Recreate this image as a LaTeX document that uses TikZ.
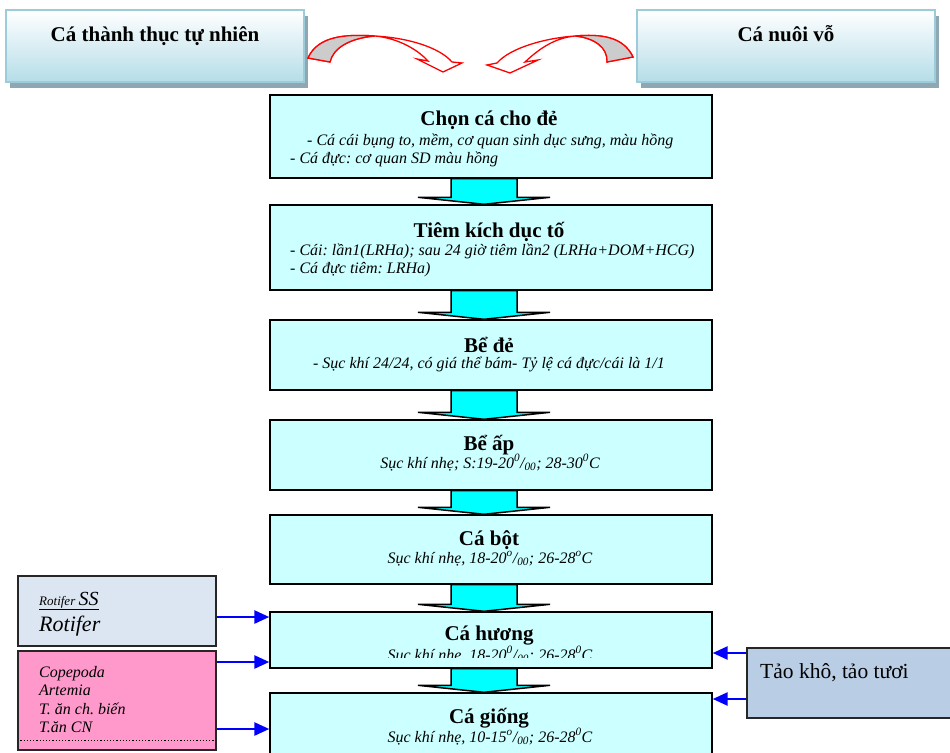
\documentclass[tikz,border=0pt]{standalone}
\usepackage{fontspec}
\setmainfont{Liberation Serif}
\usetikzlibrary{calc,arrows.meta,shadows}
\frenchspacing

\definecolor{boxcyan}{HTML}{CCFFFF}
\definecolor{arrcyan}{HTML}{00FFFF}
\definecolor{topblue}{HTML}{B5DDE8}
\definecolor{topedge}{HTML}{9CCBDA}
\definecolor{topshade}{HTML}{8EA7B2}
\definecolor{rotbox}{HTML}{DCE6F2}
\definecolor{pinkbox}{HTML}{FF99CC}
\definecolor{algbox}{HTML}{B9CDE5}
\definecolor{bentgray}{HTML}{CCCCCC}

\tikzset{
  stage/.style={draw=black, line width=1.4pt, fill=boxcyan, minimum width=442pt, inner sep=0pt},
  source/.style={draw=topedge, line width=1.6pt, top color=white, bottom color=topblue,
    minimum width=298pt, minimum height=72pt, inner sep=0pt,
    drop shadow={shadow xshift=4pt, shadow yshift=-6pt, fill=topshade, opacity=1}},
  feedbox/.style={draw=black!85, line width=1.4pt, inner sep=0pt},
  title/.style={font=\bfseries\fontsize{21}{23}\selectfont, anchor=base, inner sep=0pt},
  note/.style={font=\itshape\fontsize{16}{18}\selectfont, anchor=base west, inner sep=0pt},
  cnote/.style={font=\itshape\fontsize{16}{18}\selectfont, anchor=base, inner sep=0pt},
  blockarr/.style={draw=black, line width=1.5pt, fill=arrcyan, line join=miter},
  bent/.style={draw=red, line width=1.3pt, fill=white},
  feed/.style={draw=blue, line width=2.6pt, -{Triangle[length=15pt,width=13pt]}}
}

\begin{document}
\begin{tikzpicture}[x=1pt, y=-1pt]
\useasboundingbox (0,0) rectangle (950,752);

% two sources of brood fish
\node [source] (wild) at (155,46) {};
\node [source] (kept) at (786,46) {};
\node [title] at ($(wild.north)+(0,32)$) {Cá thành thục tự nhiên};
\node [title] at ($(kept.north)+(0,32)$) {Cá nuôi vỗ};

% bent arrows
\draw [bent] (308,58) .. controls (318,36) and (345,34) .. (375,36)
  .. controls (410,38) and (440,48) .. (452,62) -- (462,63) -- (443,72) -- (417,59) -- (428,61)
  .. controls (415,47) and (395,38) .. (375,36) .. controls (350,38) and (333,48) .. (330,62) -- cycle;
\draw [bent, fill=bentgray] (308,58) .. controls (318,36) and (345,34) .. (375,36)
  .. controls (350,38) and (333,48) .. (330,62) -- cycle;
\draw [bent] (633,57) .. controls (623,36) and (600,34) .. (575,36)
  .. controls (545,38) and (510,48) .. (497,63) -- (487,65) -- (510,73) -- (538,60) -- (525,62)
  .. controls (540,48) and (555,38) .. (575,36) .. controls (595,38) and (608,48) .. (607,62) -- cycle;
\draw [bent, fill=bentgray] (633,57) .. controls (623,36) and (600,34) .. (575,36)
  .. controls (595,38) and (608,48) .. (607,62) -- cycle;

% main stages
\node [stage, minimum height=83pt] (chon) at (491,136.5) {};
\node [stage, minimum height=85pt] (tiem) at (491,247.5) {};
\node [stage, minimum height=70pt] (bede) at (491,355) {};
\node [stage, minimum height=70pt] (beap) at (491,455) {};
\node [stage, minimum height=69pt] (bot) at (491,549.5) {};
\node [stage, minimum height=56pt] (huong) at (491,640) {};
\node [stage, minimum height=78pt] (giong) at (491,732) {};

\node [title] at (489,125) {Chọn cá cho đẻ};
\node [note] at (307,145) {- Cá cái bụng to, mềm, cơ quan sinh dục sưng, màu hồng};
\node [note] at (290,163) {- Cá đực: cơ quan SD màu hồng};

\node [title] at (489,237) {Tiêm kích dục tố};
\node [note] at (290,255) {- Cái: lần1(LRHa); sau 24 giờ tiêm lần2 (LRHa+DOM+HCG)};
\node [note] at (290,273) {- Cá đực tiêm: LRHa)};

\node [title] at (489,352) {Bể đẻ};
\node [cnote] at (489,368) {- Sục khí 24/24, có giá thể bám- Tỷ lệ cá đực/cái là 1/1};

\node [title] at (489,450) {Bể ấp};
\node [cnote] at (490,468) {Sục khí nhẹ; S:19-20\textsuperscript{0}/\textsubscript{00}; 28-30\textsuperscript{0}C};

\node [title] at (489,545) {Cá bột};
\node [cnote] at (490,563) {Sục khí nhẹ, 18-20\textsuperscript{o}/\textsubscript{00}; 26-28\textsuperscript{o}C};

\node [title] at (489,640) {Cá hương};
\begin{scope}
  \clip (270,612) rectangle (712,657);
  \node [cnote] at (490,660) {Sục khí nhẹ, 18-20\textsuperscript{0}/\textsubscript{00}; 26-28\textsuperscript{0}C};
\end{scope}

\node [title] at (489,723) {Cá giống};
\node [cnote] at (490,742) {Sục khí nhẹ, 10-15\textsuperscript{o}/\textsubscript{00}; 26-28\textsuperscript{0}C};

% block arrows between stages
\foreach \a/\b in {chon/tiem, tiem/bede, bede/beap, beap/bot, bot/huong, huong/giong}
  \draw [blockarr] ($(\a.south)+(-40,0)$) -- ($(\b.north)+(-40,-7)$) -- ($(\b.north)+(-73,-7)$)
    -- ($(\b.north)+(-7,0)$) -- ($(\b.north)+(59,-7)$) -- ($(\b.north)+(26,-7)$)
    -- ($(\a.south)+(26,0)$) -- cycle;

% feed boxes
\node [feedbox, fill=rotbox, minimum width=198pt, minimum height=70pt] (rot) at (117,611) {};
\node [feedbox, fill=pinkbox, minimum width=198pt, minimum height=99pt] (pink) at (117,700.5) {};
\node [feedbox, fill=algbox, minimum width=210pt, minimum height=70pt] (tao) at (852,683) {};

\node [anchor=base west, inner sep=0pt, font=\itshape] at (39,605)
  {\underline{\fontsize{13}{15}\selectfont Rotifer \fontsize{20}{22}\selectfont SS}};
\node [anchor=base west, inner sep=0pt, font=\itshape\fontsize{22}{24}\selectfont] at (39,631) {Rotifer};

\node [note] at (39,677) {Copepoda};
\node [note] at (39,695) {Artemia};
\node [note] at (39,714) {T. ăn ch. biến};
\node [note] at (39,732) {T.ăn CN};
\draw [line width=1.2pt, dotted] ($(pink.south west)+(3,-10)$) -- ($(pink.south east)+(-3,-10)$);

\node [anchor=base west, inner sep=0pt, font=\fontsize{21.5}{24}\selectfont] at (760,678) {Tảo khô, tảo tươi};

% feeding arrows
\draw [feed] ($(rot.east)+(0,6)$) -- ($(rot.east -| huong.west)+(0,6)$);
\draw [feed] ($(pink.east)+(0,-38.5)$) -- ($(pink.east -| huong.west)+(0,-38.5)$);
\draw [feed] ($(pink.east)+(0,28.5)$) -- ($(pink.east -| giong.west)+(0,28.5)$);
\draw [feed] ($(tao.west)+(0,-30)$) -- ($(tao.west -| huong.east)+(0,-30)$);
\draw [feed] ($(tao.west)+(0,16)$) -- ($(tao.west -| giong.east)+(0,16)$);
\end{tikzpicture}
\end{document}
